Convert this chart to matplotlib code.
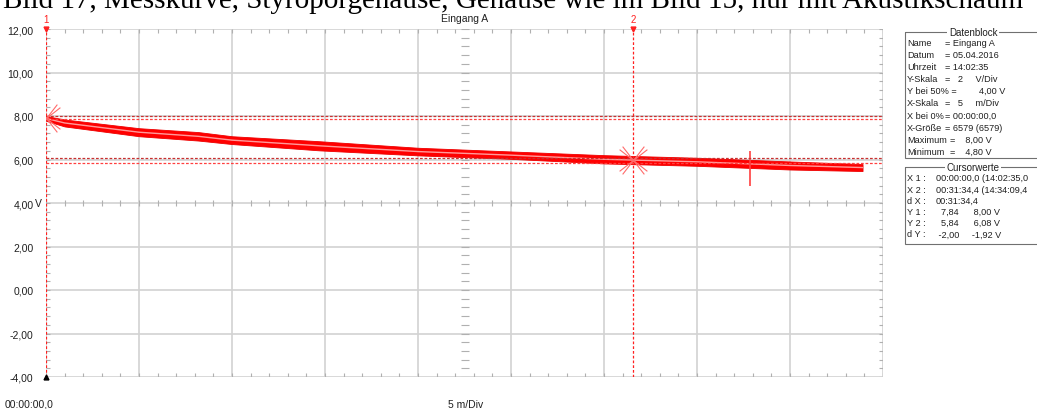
import numpy as np
import matplotlib
matplotlib.use("Agg")
import matplotlib.pyplot as plt
import matplotlib.patches as mpatches
from matplotlib.path import Path

time_min = [0.0, 1.0, 5.0, 8.2, 10.0, 14.7, 20.0, 25.0, 30.0, 35.0, 40.0, 43.9]
upper_v  = [8.00, 7.84, 7.44, 7.26, 7.07, 6.84, 6.54, 6.37, 6.20, 6.08, 5.91, 5.79]
lower_v  = [7.78, 7.52, 7.07, 6.87, 6.71, 6.42, 6.19, 6.03, 5.82, 5.71, 5.54, 5.47]

spike_t  = [37.85]
spike_lo = [4.80]
spike_hi = [6.40]

cursor_t      = [0.0, 31.573]
cursor_labels = ["1", "2"]
cursor_ya     = [8.00, 6.08]
cursor_yb     = [7.84, 5.84]
star_y        = [7.92, 5.96]

x_grid  = [0, 5, 10, 15, 20, 25, 30, 35, 40, 45]
y_ticks = [-4, -2, 0, 2, 4, 6, 8, 10, 12]
y_labels = ["-4,00", "-2,00", "0,00", "2,00", "4,00", "6,00", "8,00", "10,00", "12,00"]

db_labels = ["Name", "Datum", "Uhrzeit", "Y-Skala", "Y bei 50% =", "X-Skala",
             "X bei 0%", "X-Größe", "Maximum", "Minimum"]
db_values = ["= Eingang A", "= 05.04.2016", "= 14:02:35", "=   2     V/Div",
             "4,00 V", "=   5     m/Div", "= 00:00:00,0", "= 6579 (6579)",
             "=    8,00 V", "=    4,80 V"]
cw_labels = ["X 1 :", "X 2 :", "d X :", "Y 1 :", "Y 2 :", "d Y :"]
cw_values = ["00:00:00,0 (14:02:35,0", "00:31:34,4 (14:34:09,4", "00:31:34,4",
             "  7,84      8,00 V", "  5,84      6,08 V", " -2,00     -1,92 V"]

W, H = 1037, 410
UI = "Liberation Sans"
FS = 6.6
GRID = "#d2d2d2"
TXT = "#202020"

fig = plt.figure(figsize=(W / 100, H / 100), dpi=100)
fig.patch.set_facecolor("white")

# plot area in pixels: x 46..883, y 30..378
ax = fig.add_axes([46 / W, 1 - 378 / H, 837 / W, 348 / H])
ax.set_xlim(0, 45)
ax.set_ylim(-4, 12)
for s in ax.spines.values():
    s.set_visible(False)
ax.set_xticks([])
ax.set_yticks(y_ticks, y_labels, fontsize=7.5, family=UI, color=TXT)
ax.tick_params(axis="y", length=0, pad=9)
ax.text(-0.013, 4, "V", transform=ax.get_yaxis_transform(), ha="left",
        va="center", fontsize=7.5, family=UI, color=TXT)

# ── Raster ───────────────────────────────────────────────────────────────
for x in x_grid:
    ax.axvline(x, color=GRID, lw=1.2, zorder=0)
for y in y_ticks:
    ax.axhline(y, color=GRID, lw=1.2, zorder=0)

dx = 45 / 837   # minutes per pixel
dy = 16 / 348   # volts per pixel
minor_x = np.arange(0, 45.01, 1.0)
minor_y = np.arange(-4, 12.01, 0.4)
tk = "#b0b0b0"
ax.vlines(minor_x, 12 - 4 * dy, 12, color=tk, lw=0.8, zorder=1)
ax.vlines(minor_x, -4, -4 + 4 * dy, color=tk, lw=0.8, zorder=1)
ax.vlines(minor_x, 4 - 3 * dy, 4 + 3 * dy, color=tk, lw=0.8, zorder=1)
ax.hlines(minor_y, 0, 4 * dx, color=tk, lw=0.8, zorder=1)
ax.hlines(minor_y, 45 - 4 * dx, 45, color=tk, lw=0.8, zorder=1)
ax.hlines(minor_y, 22.5 - 4 * dx, 22.5 + 4 * dx, color=tk, lw=0.8, zorder=1)

# ── Kurve ────────────────────────────────────────────────────────────────
ax.fill_between(time_min, lower_v, upper_v, color="#ff0000", lw=0.6,
                edgecolor="#ee0000", zorder=3)
mid_v = [(a + b) / 2 for a, b in zip(upper_v, lower_v)]
ax.plot(time_min, mid_v, color="#ff9a9a", lw=1.0, zorder=4)
ax.vlines(spike_t, spike_lo, spike_hi, color="#ff4040", lw=1.2, zorder=4)

# ── Cursor ───────────────────────────────────────────────────────────────
for t in cursor_t:
    ax.axvline(t, color="#ff2020", lw=0.9, ls=(0, (2.2, 1.6)), zorder=5)
for y in cursor_ya:
    ax.axhline(y, color="#c83030", lw=0.9, ls=(0, (2.2, 1.4)), zorder=5)
for y in cursor_yb:
    ax.axhline(y, color="#ff4040", lw=0.9, ls=(0, (2.2, 1.4)), zorder=5)

verts, codes = [], []
for a in np.radians([38, 52, 128, 142]):
    c, s = np.cos(a), np.sin(a)
    verts += [(-c, -s), (c, s)]
    codes += [Path.MOVETO, Path.LINETO]
star = Path(verts, codes)
ax.plot(cursor_t, star_y, ls="none", marker=star, markersize=20,
        markeredgecolor="#ff6a6a", markeredgewidth=0.8, zorder=6)

ax.plot([0], [-4], marker="^", markersize=3.5, color="black",
        clip_on=False, zorder=7)
for t, lab in zip(cursor_t, cursor_labels):
    ax.plot([t], [12], marker="v", markersize=3.5, color="#ff2020",
            clip_on=False, zorder=7)
    ax.annotate(lab, (t, 12), xytext=(0, 7), textcoords="offset points",
                ha="center", va="center", fontsize=7, family=UI,
                color="#ff2020", annotation_clip=False)

# ── Overlay in Pixelkoordinaten ─────────────────────────────────────────
ov = fig.add_axes([0, 0, 1, 1], zorder=10)
ov.set_xlim(0, W)
ov.set_ylim(H, 0)
ov.axis("off")
ov.patch.set_alpha(0)

ov.text(3, 7.5, "Bild 17, Messkurve, Styroporgehäuse, Gehäuse wie im Bild 15, "
        "nur mit Akustikschaum", family="Liberation Serif", fontsize=21,
        ha="left", va="baseline", color="black")

ov.text(465, 19, "Eingang A", fontsize=7.5, family=UI, ha="center",
        va="center", color=TXT)
ov.text(5, 405, "00:00:00,0", fontsize=7.5, family=UI, ha="left",
        va="center", color=TXT)
ov.text(448, 405, "5 m/Div", fontsize=7.5, family=UI, ha="left",
        va="center", color=TXT)


def group_box(top, bottom, title, labels, values, row0, step, xvals):
    ov.add_patch(mpatches.Rectangle((905, top), 200, bottom - top,
                                    fill=False, edgecolor="#707070", lw=0.8))
    ov.text(973, top, title, fontsize=7, family=UI, ha="center",
            va="center", color=TXT,
            bbox=dict(facecolor="white", edgecolor="none", pad=1))
    for i, (lab, val) in enumerate(zip(labels, values)):
        y = row0 + i * step
        ov.text(907, y, lab, fontsize=FS, family=UI, ha="left",
                va="center", color=TXT)
        ov.text(xvals[i], y, val, fontsize=FS, family=UI, ha="left",
                va="center", color=TXT)


db_x = [945, 945, 945, 945, 979, 945, 945, 945, 950, 950]
group_box(33, 159, "Datenblock", db_labels, db_values, 43, 12.2, db_x)
group_box(168, 245, "Cursorwerte", cw_labels, cw_values, 179, 11.2,
          [936] * len(cw_labels))

fig.savefig("out.png", dpi=100, facecolor="white")
